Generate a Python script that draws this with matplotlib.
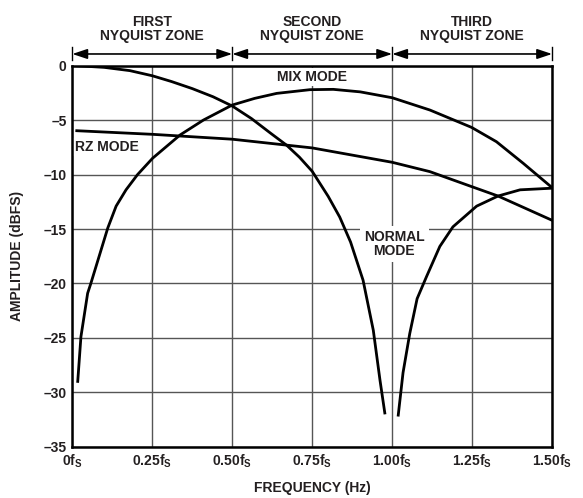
import matplotlib.pyplot as plt

plt.rcParams['font.family'] = ['Liberation Sans', 'DejaVu Sans']
plt.rcParams['font.weight'] = 'bold'
plt.rcParams['mathtext.default'] = 'regular'

# normal mode, first/second zone (sinc roll-off into the null at fs)
normal_f1 = [0.015, 0.1, 0.18, 0.25, 0.31, 0.375, 0.44, 0.5, 0.56, 0.62, 0.67, 0.71, 0.75, 0.8,
             0.836, 0.87, 0.909, 0.941, 0.962, 0.977]
normal_db1 = [0.0, -0.15, -0.45, -0.92, -1.45, -2.1, -2.85, -3.7, -4.85, -6.2, -7.3, -8.4, -9.7, -12.0,
              -13.9, -16.2, -19.7, -24.3, -28.9, -31.9]

# normal mode, third zone
normal_f2 = [1.019, 1.034, 1.055, 1.078, 1.107, 1.149, 1.19, 1.264, 1.331, 1.40, 1.5]
normal_db2 = [-32.1, -28.2, -24.6, -21.4, -19.4, -16.6, -14.8, -12.9, -11.97, -11.4, -11.25]

rz_f = [0.014, 0.25, 0.5, 0.75, 1.0, 1.118, 1.248, 1.331, 1.5]
rz_db = [-5.97, -6.3, -6.75, -7.55, -8.87, -9.73, -11.1, -11.97, -14.2]

mix_f = [0.017, 0.027, 0.048, 0.058, 0.084, 0.111, 0.137, 0.168, 0.204, 0.251, 0.337, 0.41, 0.5,
         0.57, 0.639, 0.743, 0.816, 0.9, 1.0, 1.118, 1.248, 1.326, 1.41, 1.5]
mix_db = [-29.0, -24.9, -20.9, -20.0, -17.5, -14.9, -12.9, -11.4, -10.0, -8.5, -6.36, -4.99, -3.61,
          -3.0, -2.54, -2.2, -2.17, -2.4, -2.94, -4.07, -5.66, -6.98, -8.97, -11.2]

xticks = [0, 0.25, 0.5, 0.75, 1.0, 1.25, 1.5]
xlabels = [r'0f$_\mathregular{S}$', r'0.25f$_\mathregular{S}$', r'0.50f$_\mathregular{S}$',
           r'0.75f$_\mathregular{S}$', r'1.00f$_\mathregular{S}$', r'1.25f$_\mathregular{S}$',
           r'1.50f$_\mathregular{S}$']
yticks = [0, -5, -10, -15, -20, -25, -30, -35]
ylabels = ['0', '–5', '–10', '–15', '–20', '–25', '–30', '–35']

zones = ['FIRST\nNYQUIST ZONE', 'SECOND\nNYQUIST ZONE', 'THIRD\nNYQUIST ZONE']
zone_edges = [0, 0.5, 1.0, 1.5]

txt = '#231f20'
fs = 10

fig = plt.figure(figsize=(5.83, 4.98), dpi=100)
ax = fig.add_axes([0.124, 0.103, 0.823, 0.765])

lw = 2.0
ax.plot(normal_f1, normal_db1, color='black', lw=lw, zorder=3)
ax.plot(normal_f2, normal_db2, color='black', lw=lw, zorder=3)
ax.plot(rz_f, rz_db, color='black', lw=lw, zorder=3)
ax.plot(mix_f, mix_db, color='black', lw=lw, zorder=3)

ax.set_xlim(0, 1.5)
ax.set_ylim(-35, 0)
ax.set_xticks(xticks)
ax.set_xticklabels(xlabels, fontsize=fs, fontweight='bold', color=txt)
ax.set_yticks(yticks)
ax.set_yticklabels(ylabels, fontsize=fs, fontweight='bold', color=txt)
ax.tick_params(length=0, pad=4)
ax.grid(True, color='#555555', lw=1.0, zorder=1)
for s in ax.spines.values():
    s.set_linewidth(1.8)
    s.set_zorder(4)

ax.set_xlabel('FREQUENCY (Hz)', fontsize=fs, fontweight='bold', color=txt, labelpad=8)
ax.set_ylabel('AMPLITUDE (dBFS)', fontsize=fs, fontweight='bold', color=txt, labelpad=14)

box = dict(facecolor='white', edgecolor='none', pad=1.5)
ax.text(0.75, -1.0, 'MIX MODE', ha='center', va='center', fontsize=fs, fontweight='bold',
        color=txt, bbox=box, zorder=2)
ax.text(0.008, -7.43, 'RZ MODE', ha='left', va='center', fontsize=fs, fontweight='bold',
        color=txt, bbox=box, zorder=2)
ax.text(1.007, -16.4, 'NORMAL\nMODE', ha='center', va='center', fontsize=fs, fontweight='bold',
        color=txt, bbox=dict(facecolor='white', edgecolor='none', pad=3), linespacing=1.0, zorder=2)

# nyquist zone arrows above the plot
for i, name in enumerate(zones):
    a, b = zone_edges[i], zone_edges[i + 1]
    ax.annotate('', xy=(a, 1.08), xytext=(b, 1.08), annotation_clip=False,
                arrowprops=dict(arrowstyle='<|-|>,head_length=0.9,head_width=0.3',
                                color='black', lw=1.2, shrinkA=0, shrinkB=0))
    ax.text((a + b) / 2, 3.39, name, ha='center', va='center', fontsize=fs,
            fontweight='bold', color=txt, linespacing=1.0, clip_on=False)
for e in zone_edges:
    ax.plot([e, e], [0.55, 1.75], color='black', lw=1.0, clip_on=False)

fig.savefig('out.png', dpi=100)
